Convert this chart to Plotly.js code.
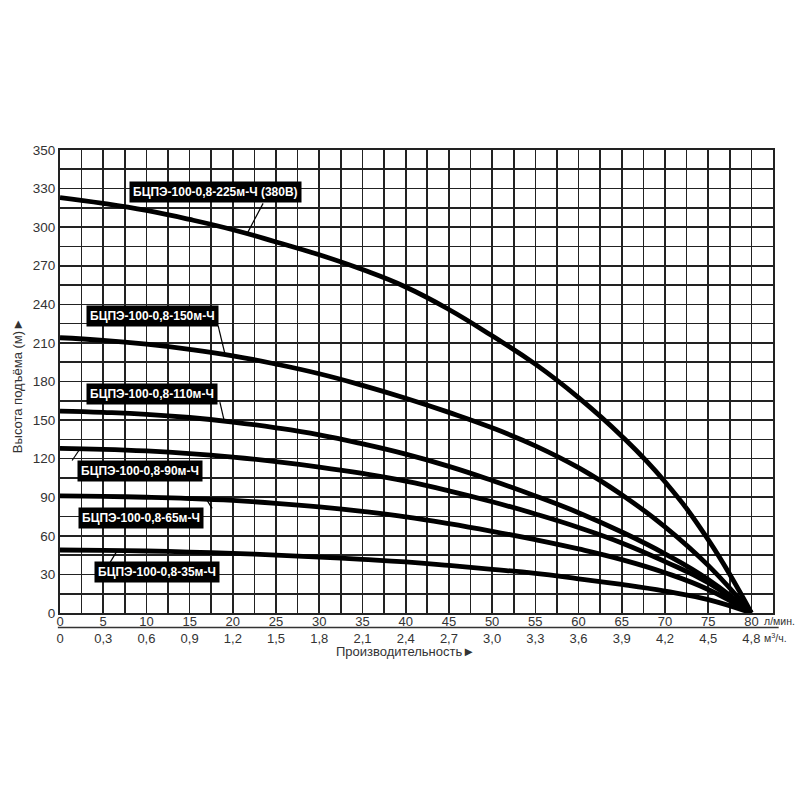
<!DOCTYPE html>
<html>
<head>
<meta charset="utf-8">
<script src="https://cdn.plot.ly/plotly-3.0.1.min.js"></script>
<style>html,body{margin:0;padding:0;background:#fff;}#chart{width:800px;height:800px;}</style>
</head>
<body>
<div id="chart"></div>
<script>
// Flow, l/min
const flow = [0, 5, 10, 15, 20, 25, 30, 35, 40, 45, 50, 55, 60, 65, 70, 75, 80];
// Head, m
const head225 = [323, 318.5, 313, 306, 298, 288.5, 278.5, 267, 253.5, 236, 215.5, 193.5, 167.5, 137.5, 102, 57, 0];
const head150 = [214, 212, 209, 205, 200, 193.5, 186, 177, 167, 156, 144, 130, 113, 92, 67, 37, 0];
const head110 = [157, 156, 154.5, 152, 148.5, 144, 138.5, 131.5, 123.5, 114, 103, 91, 78, 63, 46, 26, 0];
const head90  = [128, 127.3, 126, 124, 121.2, 117.7, 113.5, 108.5, 102.5, 95, 86.5, 77, 66.5, 54.5, 40, 23.5, 0];
const head65  = [91, 90.7, 90, 89, 87.5, 85.3, 82.5, 79, 74.8, 69.5, 63.5, 57, 49.8, 41.5, 31.3, 18.3, 0];
const head35  = [49, 48.7, 48.2, 47.4, 46.4, 45, 43.5, 41.7, 39.7, 37, 34, 30.8, 26.6, 22.2, 17, 10.4, 0];

const seriesNames = [
  'БЦПЭ-100-0,8-225м-Ч (380В)',
  'БЦПЭ-100-0,8-150м-Ч',
  'БЦПЭ-100-0,8-110м-Ч',
  'БЦПЭ-100-0,8-90м-Ч',
  'БЦПЭ-100-0,8-65м-Ч',
  'БЦПЭ-100-0,8-35м-Ч'
];
const seriesHeads = [head225, head150, head110, head90, head65, head35];

// Tick labels
const xTickLpm = ['0','5','10','15','20','25','30','35','40','45','50','55','60','65','70','75','80'];
const xTickM3  = ['0','0,3','0,6','0,9','1,2','1,5','1,8','2,1','2,4','2,7','3,0','3,3','3,6','3,9','4,2','4,5','4,8'];
const yTickLabels = ['0','30','60','90','120','150','180','210','240','270','300','330','350'];
const xUnitLpm = 'л/мин.';
const xUnitM3 = 'м<sup>3</sup>/ч.';
const xTitle = 'Производительность►';
const yTitle = 'Высота подъёма (м)►';

// Grid every 2.5 l/min and every 15 m
const xVals = [], xText = [];
for (let i = 0; i <= 33; i++) {
  xVals.push(i * 2.5);
  xText.push(i % 2 === 0 && xTickLpm[i / 2] !== undefined ? xTickLpm[i / 2] + '<br>' + xTickM3[i / 2] : ' ');
}
const yVals = [], yText = [];
for (let i = 0; i <= 24; i++) {
  yVals.push(i * 15);
  yText.push(i % 2 === 0 ? yTickLabels[i / 2] : ' ');
}

const traces = seriesHeads.map((h, k) => ({
  x: flow, y: h, type: 'scatter', mode: 'lines', name: seriesNames[k],
  line: {color: '#000', width: 4.8, shape: 'spline', smoothing: 1.3},
  hoverinfo: 'skip'
}));

// Label placement (data coords): box centre, leader start, leader end
const labelPos = [
  {x: 17.94, y: 327.6, x0: 23.5, y0: 318.5, x1: 21.65, y1: 295.0},
  {x: 10.65, y: 230.8, x0: 18.3, y0: 223.2, x1: 19.1, y1: 201.0},
  {x: 10.7,  y: 170.6, x0: 18.5, y0: 164.0, x1: 19.0, y1: 149.3},
  {x: 9.26,  y: 110.4, x0: 1.4,  y0: 118.6, x1: 2.3,  y1: 127.5},
  {x: 9.32,  y: 73.6,  x0: 17.6, y0: 81.3,  x1: 17.0, y1: 87.8},
  {x: 11.17, y: 32.0,  x0: 5.8,  y0: 39.4,  x1: 6.6,  y1: 48.3}
];

const annotations = seriesNames.map((n, k) => ({
  x: labelPos[k].x, y: labelPos[k].y, xref: 'x', yref: 'y',
  text: '<b>' + n + '</b>', showarrow: false,
  bgcolor: '#000', borderpad: 3,
  font: {family: 'Liberation Sans, Arial, sans-serif', size: 12, color: '#fff'}
}));
annotations.push(
  {xref: 'paper', yref: 'paper', x: 1.0, y: 0, xanchor: 'left', yanchor: 'middle', yshift: -8, xshift: -11,
   text: xUnitLpm, showarrow: false,
   font: {family: 'Liberation Sans, Arial, sans-serif', size: 10.5, color: '#333'}},
  {xref: 'paper', yref: 'paper', x: 1.0, y: 0, xanchor: 'left', yanchor: 'middle', yshift: -24, xshift: -11,
   text: xUnitM3, showarrow: false,
   font: {family: 'Liberation Sans, Arial, sans-serif', size: 10.5, color: '#333'}},
  {xref: 'paper', yref: 'paper', x: 0.484, y: 0, xanchor: 'center', yanchor: 'middle', yshift: -38,
   text: xTitle, showarrow: false,
   font: {family: 'Liberation Sans, Arial, sans-serif', size: 13, color: '#333'}},
  {xref: 'paper', yref: 'paper', x: 0, y: 0.49, xanchor: 'center', yanchor: 'middle', xshift: -43,
   text: yTitle, showarrow: false, textangle: -90,
   font: {family: 'Liberation Sans, Arial, sans-serif', size: 13, color: '#333'}}
);

const shapes = labelPos.map(p => ({
  type: 'line', xref: 'x', yref: 'y', x0: p.x0, y0: p.y0, x1: p.x1, y1: p.y1,
  line: {color: '#000', width: 1.2}
}));
shapes.push({type: 'line', xref: 'paper', yref: 'paper', x0: -0.003, x1: 1.008, y0: -0.0315, y1: -0.0315,
  line: {color: '#333', width: 1.5}});

const layout = {
  width: 800, height: 800,
  margin: {l: 60, r: 27, t: 150, b: 187},
  paper_bgcolor: '#fff', plot_bgcolor: '#fff',
  showlegend: false,
  font: {family: 'Liberation Sans, Arial, sans-serif', color: '#333', size: 13},
  xaxis: {
    range: [0, 82.5], tickmode: 'array', tickvals: xVals, ticktext: xText,
    showgrid: true, gridcolor: '#222', gridwidth: 1.6,
    showline: true, mirror: true, linecolor: '#222', linewidth: 2,
    zeroline: false, ticks: '', ticklen: 0, tickangle: 0,
    ticklabelstandoff: -5,
    tickfont: {size: 13, color: '#333'},
    fixedrange: true
  },
  yaxis: {
    range: [0, 360], tickmode: 'array', tickvals: yVals, ticktext: yText,
    showgrid: true, gridcolor: '#222', gridwidth: 1.6,
    showline: true, mirror: true, linecolor: '#222', linewidth: 2,
    zeroline: false, ticks: '', ticklen: 0,
    tickfont: {size: 13.5, color: '#333'},
    fixedrange: true
  },
  annotations: annotations,
  shapes: shapes
};

Plotly.newPlot('chart', traces, layout, {displayModeBar: false, staticPlot: true});
</script>
</body>
</html>
